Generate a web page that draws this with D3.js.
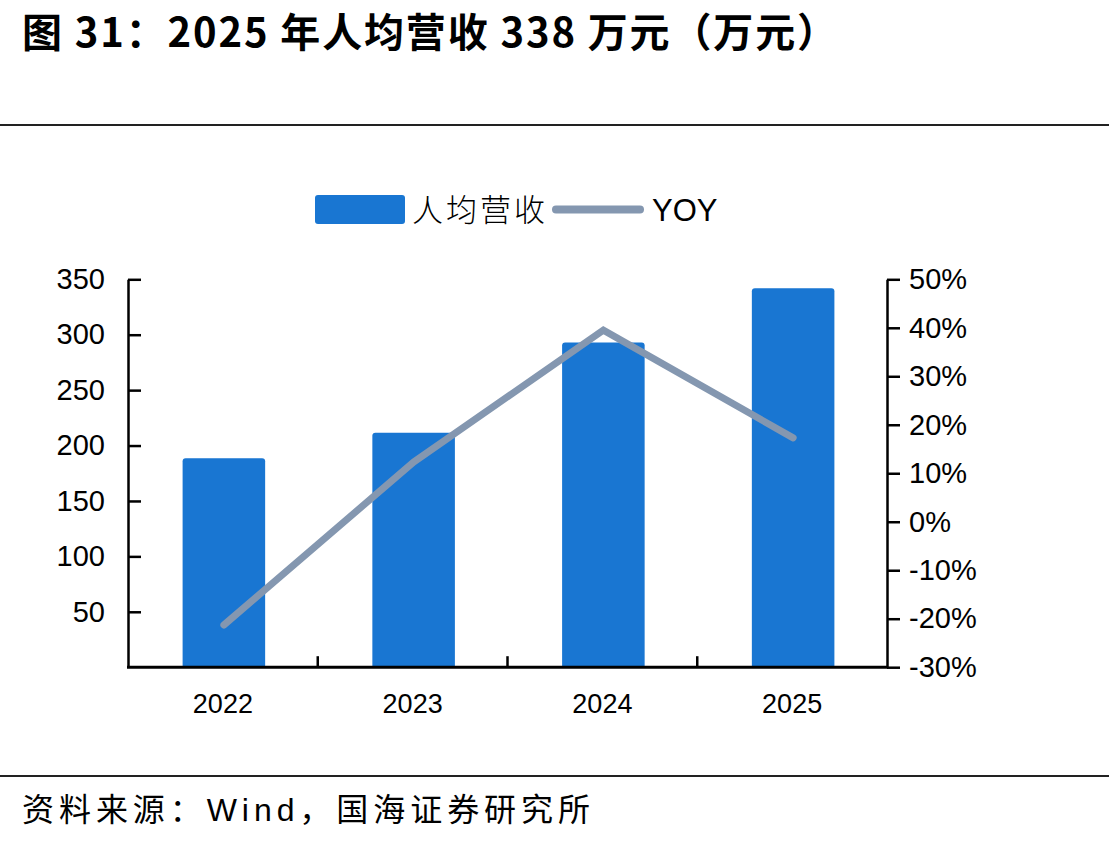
<!DOCTYPE html>
<html><head><meta charset="utf-8">
<script src="https://cdn.jsdelivr.net/npm/d3@7"></script>
<style>
body{margin:0;background:#fff;}
svg{display:block;}
</style></head>
<body>
<svg id="chart" width="1109" height="844"></svg>
<script>
const categories = ["2022", "2023", "2024", "2025"];
const revenuePerCapita = [188.5, 211.5, 293, 342];
const yoy = [-21.3, 12.3, 39.5, 17.3];
const leftTicks = [50, 100, 150, 200, 250, 300, 350];
const rightTicks = [-30, -20, -10, 0, 10, 20, 30, 40, 50];
const rightTickLabels = ["-30%", "-20%", "-10%", "0%", "10%", "20%", "30%", "40%", "50%"];
const titleText = "图 31：2025 年人均营收 338 万元（万元）";
const sourceText = "资料来源：Wind，国海证券研究所";
const legendLabels = ["人均营收", "YOY"];

const svg = d3.select("#chart");
const W = 1109, H = 844;
const plot = {left: 128, right: 887, top: 279.3, bottom: 667.2};
const barColor = "#1976D2", lineColor = "#8497B0";
const sans = "Arial, 'Liberation Sans', sans-serif";
const cjk = "'Noto Sans CJK SC', sans-serif";

svg.append("rect").attr("width", W).attr("height", H).attr("fill", "#fff");

// Title
svg.append("text").attr("x", 22).attr("y", 47)
  .attr("font-family", "'Liberation Sans Narrow', 'Noto Sans CJK SC', sans-serif")
  .attr("font-weight", "bold").attr("font-size", 40).attr("fill", "#000")
  .attr("textLength", 815).attr("lengthAdjust", "spacing")
  .text(titleText);

// separators
svg.append("line").attr("x1", 0).attr("x2", W).attr("y1", 125).attr("y2", 125)
  .attr("stroke", "#222").attr("stroke-width", 2);
svg.append("line").attr("x1", 0).attr("x2", W).attr("y1", 776).attr("y2", 776)
  .attr("stroke", "#222").attr("stroke-width", 2);

// source
svg.append("text").attr("x", 22).attr("y", 821)
  .attr("font-family", "Arial, 'Noto Sans CJK SC', sans-serif")
  .attr("font-size", 32).attr("fill", "#000")
  .attr("textLength", 568).attr("lengthAdjust", "spacing")
  .text(sourceText);

// scales
const x = d3.scaleBand().domain(categories).range([plot.left, plot.right])
  .paddingInner(0.565).paddingOuter(0.2825);
const y = d3.scaleLinear().domain([0, 350]).range([plot.bottom, plot.top]);
const y2 = d3.scaleLinear().domain([-30, 50]).range([plot.bottom, plot.top]);

// bars (rounded top corners)
const r = 3;
svg.append("g").selectAll("path").data(categories).join("path")
  .attr("fill", barColor)
  .attr("d", (c, i) => {
    const x0 = x(c) + 1, x1 = x(c) + x.bandwidth() + 1, yt = y(revenuePerCapita[i]), yb = y(0);
    return `M${x0},${yb}V${yt + r}Q${x0},${yt} ${x0 + r},${yt}H${x1 - r}Q${x1},${yt} ${x1},${yt + r}V${yb}Z`;
  });

// line
const line = d3.line().x((d, i) => x(categories[i]) + x.bandwidth() / 2 + 1).y(d => y2(d));
svg.append("path").datum(yoy).attr("d", line)
  .attr("fill", "none").attr("stroke", lineColor).attr("stroke-width", 7)
  .attr("stroke-linecap", "round").attr("stroke-linejoin", "miter");

// left axis
const gl = svg.append("g").attr("transform", `translate(${plot.left},0)`)
  .call(d3.axisLeft(y).tickValues(leftTicks).tickSize(-13).tickPadding(23).tickSizeOuter(0));
gl.select(".domain").attr("stroke", "#000").attr("stroke-width", 2.5);
gl.selectAll(".tick line").attr("stroke", "#000").attr("stroke-width", 2.5);
gl.selectAll(".tick text").attr("font-family", sans).attr("font-size", 29).attr("fill", "#000");

// right axis
const gr = svg.append("g").attr("transform", `translate(${plot.right},0)`)
  .call(d3.axisRight(y2).tickValues(rightTicks).tickSize(13).tickPadding(9).tickSizeOuter(0)
    .tickFormat((d, i) => rightTickLabels[i]));
gr.select(".domain").attr("stroke", "#000").attr("stroke-width", 2.5);
gr.selectAll(".tick line").attr("stroke", "#000").attr("stroke-width", 2.5);
gr.selectAll(".tick text").attr("font-family", sans).attr("font-size", 29).attr("fill", "#000");

// bottom axis
const gb = svg.append("g").attr("transform", `translate(0,${plot.bottom})`)
  .call(d3.axisBottom(x).tickSize(0).tickPadding(27).tickSizeOuter(0));
gb.select(".domain").attr("stroke", "#000").attr("stroke-width", 3)
  .attr("d", `M${plot.left - 1},0H${plot.right + 1}`);
gb.selectAll(".tick text").attr("font-family", sans).attr("font-size", 27).attr("fill", "#000");
// category separators (inward ticks)
const seps = categories.slice(1).map(c => x(c) - x.step() * x.paddingInner() / 2);
gb.selectAll(".sep").data(seps).join("line").attr("class", "sep")
  .attr("x1", d => d).attr("x2", d => d).attr("y1", 0).attr("y2", -11)
  .attr("stroke", "#000").attr("stroke-width", 2.5);

// legend
const lg = svg.append("g");
lg.append("rect").attr("x", 315).attr("y", 195).attr("width", 90).attr("height", 29)
  .attr("rx", 3).attr("fill", barColor);
lg.append("text").attr("x", 412).attr("y", 221).attr("font-family", cjk)
  .attr("font-size", 31).attr("font-weight", 300).attr("fill", "#000")
  .attr("textLength", 133).attr("lengthAdjust", "spacing").text(legendLabels[0]);
lg.append("line").attr("x1", 556).attr("x2", 640).attr("y1", 209.5).attr("y2", 209.5)
  .attr("stroke", lineColor).attr("stroke-width", 8).attr("stroke-linecap", "round");
lg.append("text").attr("x", 652).attr("y", 221).attr("font-family", sans)
  .attr("font-size", 31).attr("fill", "#000").text(legendLabels[1]);
</script>
</body></html>
